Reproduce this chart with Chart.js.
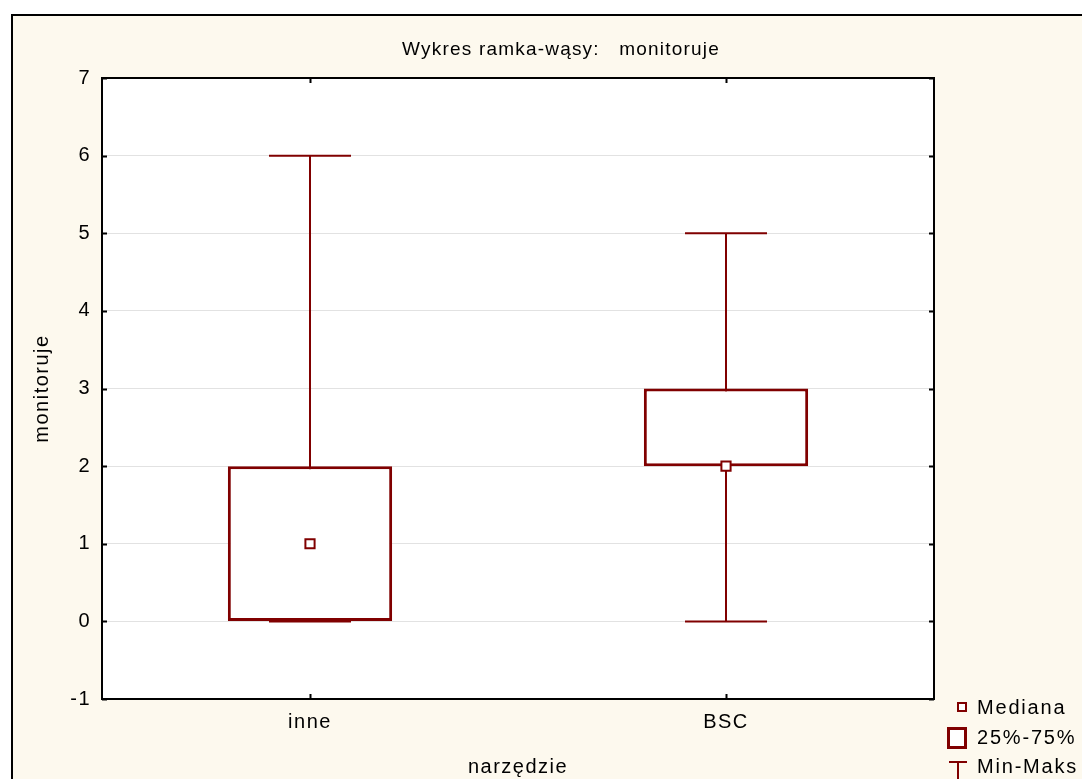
<!DOCTYPE html>
<html>
<head>
<meta charset="utf-8">
<script src="https://cdn.jsdelivr.net/npm/chart.js@4"></script>
<style>
  html, body { margin: 0; padding: 0; background: #fff; }
  #wrap { width: 1082px; height: 779px; }
</style>
</head>
<body>
<div id="wrap"><canvas id="boxChart"></canvas></div>
<script>
const categories = ["inne", "BSC"];
const minVals = [0, 0];
const q1Vals = [0, 2];
const medianVals = [1, 2];
const q3Vals = [2, 3];
const maxVals = [6, 5];
const yTicks = [-1, 0, 1, 2, 3, 4, 5, 6, 7];
const legendLabels = ["Mediana", "25%-75%", "Min-Maks"];

const RED = "#800000";
const CREAM = "#fdf9ee";
const FONT = "'Liberation Sans', Arial, sans-serif";

// tło z ramką, wąsy, znaczniki osi, tytuł i legenda
const boxPlugin = {
  id: "boxPlugin",
  beforeDraw(chart) {
    const c = chart.ctx;
    c.letterSpacing = "1.5px";
    c.save();
    c.fillStyle = "#fff";
    c.fillRect(0, 0, chart.width, chart.height);
    c.fillStyle = CREAM;
    c.fillRect(12, 15, chart.width, chart.height);
    c.strokeStyle = "#000";
    c.lineWidth = 2;
    c.strokeRect(12, 15, chart.width + 20, chart.height + 20);
    const a = chart.chartArea;
    c.fillStyle = "#fff";
    c.fillRect(a.left, a.top, a.right - a.left, a.bottom - a.top);
    c.restore();
  },
  beforeDatasetsDraw(chart) {
    const c = chart.ctx;
    const x = chart.scales.x, y = chart.scales.y;
    c.save();
    c.strokeStyle = RED;
    c.lineWidth = 2;
    categories.forEach((cat, i) => {
      const cx = Math.round(x.getPixelForValue(i));
      const yMin = y.getPixelForValue(minVals[i]);
      const yMax = y.getPixelForValue(maxVals[i]);
      const half = 41;
      c.beginPath();
      c.moveTo(cx, yMin); c.lineTo(cx, yMax);
      c.moveTo(cx - half, yMax); c.lineTo(cx + half, yMax);
      c.moveTo(cx - half, yMin); c.lineTo(cx + half, yMin);
      c.stroke();
    });
    c.restore();
  },
  afterDraw(chart) {
    const c = chart.ctx;
    const a = chart.chartArea;
    const x = chart.scales.x, y = chart.scales.y;
    c.save();
    c.strokeStyle = "#000";
    c.lineWidth = 2;
    c.strokeRect(a.left, a.top, a.right - a.left, a.bottom - a.top);
    c.beginPath();
    yTicks.forEach(v => {
      const py = Math.round(y.getPixelForValue(v)) + 0.5;
      c.moveTo(a.left, py); c.lineTo(a.left + 5, py);
      c.moveTo(a.right, py); c.lineTo(a.right - 5, py);
    });
    categories.forEach((cat, i) => {
      const px = Math.round(x.getPixelForValue(i)) + 0.5;
      c.moveTo(px, a.top); c.lineTo(px, a.top + 5);
      c.moveTo(px, a.bottom); c.lineTo(px, a.bottom - 5);
    });
    c.stroke();

    // tytuł
    c.fillStyle = "#000";
    c.font = "19px " + FONT;
    c.letterSpacing = "1.2px";
    c.textAlign = "center";
    c.textBaseline = "middle";
    c.fillText("Wykres ramka-wąsy:   monitoruje", 561, 50);

    // legenda
    c.font = "20px " + FONT;
    c.letterSpacing = "1.8px";
    c.textAlign = "left";
    c.fillText(legendLabels[0], 977, 708);
    c.fillText(legendLabels[1], 977, 738);
    c.fillText(legendLabels[2], 977, 767);
    c.strokeStyle = RED;
    c.fillStyle = "#fff";
    c.lineWidth = 2;
    c.fillRect(958, 703, 8, 8);
    c.strokeRect(958, 703, 8, 8);
    c.lineWidth = 3;
    c.fillRect(948.5, 728.5, 17, 19);
    c.strokeRect(948.5, 728.5, 17, 19);
    c.lineWidth = 2;
    c.beginPath();
    c.moveTo(949, 762); c.lineTo(967, 762);
    c.moveTo(958, 762); c.lineTo(958, 779);
    c.stroke();
    c.restore();
  }
};

new Chart(document.getElementById("boxChart").getContext("2d"), {
  type: "bar",
  data: {
    labels: categories,
    datasets: [{
      label: "25%-75%",
      data: categories.map((cat, i) => [q1Vals[i], q3Vals[i]]),
      backgroundColor: "#fff",
      borderColor: RED,
      borderWidth: 3,
      borderSkipped: false,
      barPercentage: 1,
      categoryPercentage: 0.395,
      order: 2
    }, {
      type: "line",
      label: "Mediana",
      data: medianVals,
      showLine: false,
      pointStyle: "rect",
      pointRadius: 6.5,
      pointHoverRadius: 6.5,
      pointBackgroundColor: "#fff",
      pointBorderColor: RED,
      pointBorderWidth: 2,
      order: 1
    }]
  },
  options: {
    responsive: true,
    maintainAspectRatio: false,
    animation: false,
    layout: { padding: { left: 30, right: 148, top: 78, bottom: 0 } },
    plugins: {
      legend: { display: false },
      title: { display: false },
      tooltip: { enabled: false }
    },
    scales: {
      x: {
        grid: { display: false, drawTicks: false },
        border: { display: false },
        ticks: { color: "#000", font: { family: FONT, size: 20 }, padding: 11 },
        title: {
          display: true,
          text: "narzędzie",
          color: "#000",
          font: { family: FONT, size: 20 },
          padding: { top: 0, bottom: 0 }
        },
        afterFit(scale) { scale.height = 80; }
      },
      y: {
        min: -1,
        max: 7,
        grid: {
          drawTicks: false,
          color: ctx => (ctx.tick && (ctx.tick.value === -1 || ctx.tick.value === 7)) ? "rgba(0,0,0,0)" : "#e2e2e2",
          lineWidth: 1
        },
        border: { display: false },
        ticks: {
          stepSize: 1,
          color: "#000",
          font: { family: FONT, size: 20 },
          padding: 11
        },
        title: {
          display: true,
          text: "monitoruje",
          color: "#000",
          font: { family: FONT, size: 20 },
          padding: { top: 0, bottom: 0 }
        },
        afterFit(scale) { scale.width = 72; }
      }
    }
  },
  plugins: [boxPlugin]
});
</script>
</body>
</html>
